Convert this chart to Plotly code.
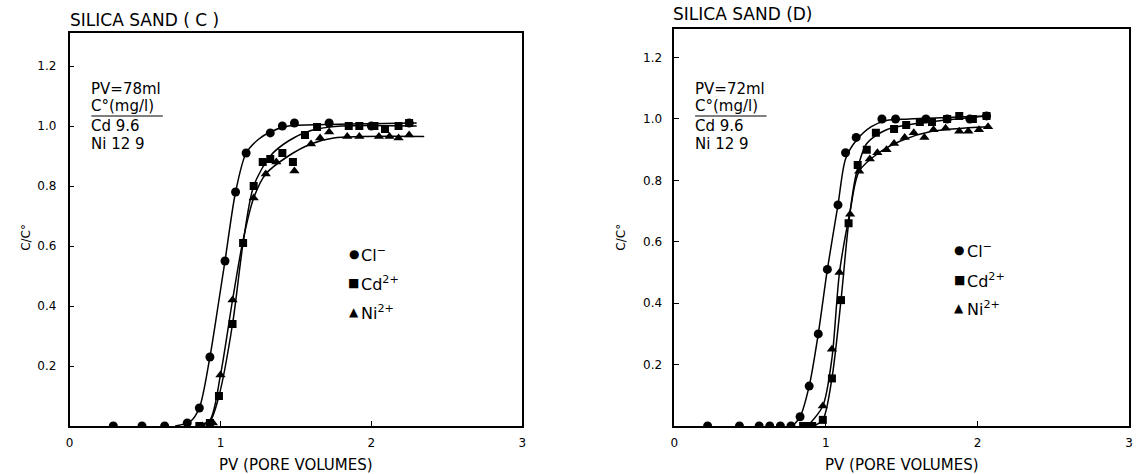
import plotly.graph_objects as go

W, H = 1139, 474

# ---------------- data: panel C ----------------
c_cl_x = [0.29, 0.48, 0.63, 0.78, 0.86, 0.93, 1.03, 1.10, 1.17, 1.33, 1.41, 1.49, 1.72, 2.00, 2.25]
c_cl_y = [0.0, 0.0, 0.0, 0.01, 0.06, 0.23, 0.55, 0.78, 0.91, 0.977, 1.0, 1.01, 1.01, 1.0, 1.01]
c_cd_x = [0.86, 0.93, 0.99, 1.08, 1.15, 1.22, 1.28, 1.33, 1.41, 1.48, 1.56, 1.64, 1.85, 1.92, 2.02, 2.09, 2.18, 2.25]
c_cd_y = [0.0, 0.01, 0.10, 0.34, 0.61, 0.80, 0.88, 0.89, 0.91, 0.88, 0.97, 0.997, 1.0, 1.0, 1.0, 0.99, 1.0, 1.01]
c_ni_x = [0.88, 0.95, 1.00, 1.08, 1.22, 1.30, 1.37, 1.49, 1.60, 1.66, 1.72, 1.84, 1.92, 2.05, 2.12, 2.18, 2.25]
c_ni_y = [0.0, 0.01, 0.17, 0.42, 0.76, 0.84, 0.88, 0.85, 0.94, 0.96, 0.98, 0.965, 0.965, 0.965, 0.965, 0.96, 0.97]
# fitted curves
c_cl_fit_x = [0.70, 0.80, 0.86, 0.93, 0.99, 1.03, 1.10, 1.17, 1.25, 1.33, 1.45, 1.70, 2.30]
c_cl_fit_y = [0.0, 0.015, 0.06, 0.23, 0.42, 0.55, 0.78, 0.91, 0.955, 0.98, 1.0, 1.005, 1.01]
c_cd_fit_x = [0.86, 0.93, 0.99, 1.08, 1.15, 1.22, 1.33, 1.45, 1.60, 1.80, 2.30]
c_cd_fit_y = [0.0, 0.015, 0.10, 0.34, 0.61, 0.80, 0.90, 0.95, 0.985, 1.0, 1.0]
c_ni_fit_x = [0.84, 0.93, 1.00, 1.08, 1.15, 1.22, 1.30, 1.45, 1.60, 1.75, 2.35]
c_ni_fit_y = [0.0, 0.02, 0.17, 0.42, 0.62, 0.76, 0.84, 0.90, 0.94, 0.96, 0.965]

# ---------------- data: panel D ----------------
d_cl_x = [0.22, 0.43, 0.56, 0.63, 0.70, 0.77, 0.83, 0.89, 0.95, 1.01, 1.08, 1.13, 1.20, 1.37, 1.46, 1.66, 1.80, 1.95, 2.06]
d_cl_y = [0.0, 0.0, 0.0, 0.0, 0.0, 0.0, 0.03, 0.13, 0.30, 0.51, 0.72, 0.89, 0.94, 1.0, 1.0, 1.0, 1.0, 1.0, 1.01]
d_cd_x = [0.85, 0.88, 0.91, 0.98, 1.04, 1.10, 1.15, 1.21, 1.27, 1.33, 1.45, 1.53, 1.62, 1.70, 1.80, 1.88, 1.97, 2.06]
d_cd_y = [0.0, 0.0, 0.0, 0.02, 0.155, 0.41, 0.66, 0.85, 0.90, 0.955, 0.967, 0.98, 0.99, 0.99, 1.0, 1.01, 1.0, 1.01]
d_ni_x = [0.98, 1.04, 1.09, 1.16, 1.22, 1.29, 1.34, 1.40, 1.45, 1.52, 1.58, 1.65, 1.71, 1.79, 1.88, 1.94, 2.01, 2.07]
d_ni_y = [0.065, 0.25, 0.50, 0.69, 0.83, 0.87, 0.89, 0.90, 0.92, 0.94, 0.955, 0.94, 0.965, 0.97, 0.96, 0.96, 0.965, 0.975]
d_cl_fit_x = [0.78, 0.83, 0.89, 0.95, 1.01, 1.08, 1.13, 1.20, 1.30, 1.40, 1.55, 2.06]
d_cl_fit_y = [0.0, 0.03, 0.13, 0.30, 0.51, 0.72, 0.87, 0.93, 0.975, 0.995, 1.0, 1.01]
d_cd_fit_x = [0.92, 0.98, 1.04, 1.10, 1.15, 1.20, 1.27, 1.40, 1.60, 2.06]
d_cd_fit_y = [0.0, 0.02, 0.155, 0.41, 0.66, 0.82, 0.92, 0.965, 0.985, 1.01]
d_ni_fit_x = [0.88, 0.98, 1.04, 1.09, 1.16, 1.22, 1.35, 1.50, 1.70, 2.07]
d_ni_fit_y = [0.0, 0.065, 0.22, 0.50, 0.70, 0.83, 0.89, 0.93, 0.96, 0.975]

x_ticks = [0, 1, 2, 3]
y_ticks = [0.2, 0.4, 0.6, 0.8, 1.0, 1.2]
y_tick_text = ["0.2", "0.4", "0.6", "0.8", "1.0", "1.2"]
legend_names = ["Cl<sup>−</sup>", "Cd<sup>2+</sup>", "Ni<sup>2+</sup>"]
legend_glyphs = ["●", "■", "▲"]

FONT = "DejaVu Sans"


def px(x):
    return x / W


def py(y):
    return 1 - y / H


fig = go.Figure()


def add_panel(xa, ya, cl, cd, ni, fits):
    for fx, fy in fits:
        fig.add_trace(go.Scatter(x=fx, y=fy, mode="lines",
                                 line=dict(color="black", width=1.5, shape="spline", smoothing=0.8),
                                 xaxis=xa, yaxis=ya, showlegend=False, hoverinfo="skip"))
    for (sx, sy), sym, size, name in zip([cl, cd, ni], ["circle", "square", "triangle-up"], [9, 8, 9], legend_names):
        fig.add_trace(go.Scatter(x=sx, y=sy, mode="markers", name=name,
                                 marker=dict(symbol=sym, size=size, color="black"),
                                 xaxis=xa, yaxis=ya, showlegend=False))


add_panel("x", "y", (c_cl_x, c_cl_y), (c_cd_x, c_cd_y), (c_ni_x, c_ni_y),
          [(c_cl_fit_x, c_cl_fit_y), (c_cd_fit_x, c_cd_fit_y), (c_ni_fit_x, c_ni_fit_y)])
add_panel("x2", "y2", (d_cl_x, d_cl_y), (d_cd_x, d_cd_y), (d_ni_x, d_ni_y),
          [(d_cl_fit_x, d_cl_fit_y), (d_cd_fit_x, d_cd_fit_y), (d_ni_fit_x, d_ni_fit_y)])

axis_common = dict(showgrid=False, zeroline=False, showline=True, linecolor="black", linewidth=1.5,
                   mirror=True, ticks="inside", ticklen=5, tickcolor="black",
                   tickfont=dict(family=FONT, size=12, color="black"))

fig.update_layout(
    width=W, height=H,
    margin=dict(l=0, r=0, t=0, b=0),
    paper_bgcolor="white", plot_bgcolor="white",
    font=dict(family=FONT, color="black", size=12),
    showlegend=False,
    xaxis=dict(domain=[px(66), px(522)], range=[0, 3], tickvals=x_ticks, anchor="y",
               ticklabelstandoff=5, **axis_common),
    yaxis=dict(domain=[py(426), py(33)], range=[0, 1.31], tickvals=y_ticks, ticktext=y_tick_text, anchor="x",
               ticklabelstandoff=9, **axis_common),
    xaxis2=dict(domain=[px(675), px(1133)], range=[0, 3], tickvals=x_ticks, anchor="y2",
                ticklabelstandoff=5, **axis_common),
    yaxis2=dict(domain=[py(426), py(29)], range=[0, 1.293], tickvals=y_ticks, ticktext=y_tick_text, anchor="x2",
                ticklabelstandoff=8, **axis_common),
)

annotations = []


def text(x, y, s, size=14, **kw):
    annotations.append(dict(x=px(x), y=py(y), xref="paper", yref="paper", text=s, showarrow=False,
                            xanchor=kw.pop("xanchor", "left"), yanchor="middle",
                            font=dict(family=FONT, size=size, color="black"), **kw))


# titles
text(64, 20, "SILICA SAND ( C )", size=17)
text(672, 14, "SILICA SAND (D)", size=17)
# info blocks
for x0, pv in [(86, "PV=78ml"), (694, "PV=72ml")]:
    text(x0, 89, pv, size=15)
    text(x0, 106, "C°(mg/l)", size=15)
    text(x0, 126, "Cd 9.6", size=15)
    text(x0, 144, "Ni 12 9", size=15)
# legends (text entries)
for lx, ly in [(352, [254, 283, 312]), (962, [250, 280, 308])]:
    for g, name, yy in zip(legend_glyphs, legend_names, ly):
        text(lx, yy, g, size=12, xanchor="center")
        text(lx + 6, yy, name, size=16)
# axis titles
text(294, 465, "PV (PORE VOLUMES)", size=15, xanchor="center")
text(904, 465, "PV (PORE VOLUMES)", size=15, xanchor="center")
text(22, 237, "C/C°", size=12, xanchor="center", textangle=-90)
text(621, 237, "C/C°", size=12, xanchor="center", textangle=-90)

fig.update_layout(annotations=annotations)

shapes = []
for x0 in [88, 696]:
    shapes.append(dict(type="line", xref="paper", yref="paper", x0=px(x0), x1=px(x0 + 72),
                       y0=py(116), y1=py(116), line=dict(color="black", width=1.2)))
fig.update_layout(shapes=shapes)

fig.write_html("out.html", config={"displayModeBar": False},
               post_script="document.body.style.margin='0';document.body.style.overflow='hidden';")
